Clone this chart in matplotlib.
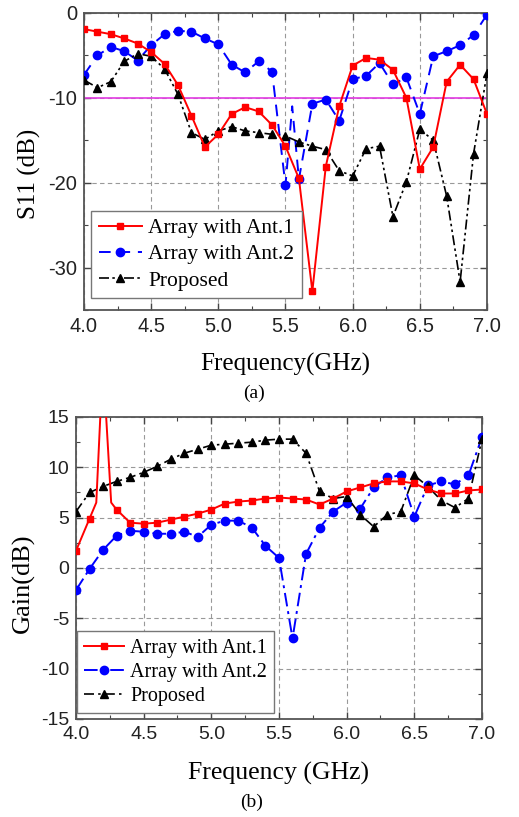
import numpy as np
import matplotlib
matplotlib.use("Agg")
import matplotlib.pyplot as plt
from matplotlib.ticker import MultipleLocator

plt.rcParams["axes.unicode_minus"] = False

# ---- (a) S11 data, 0.1 GHz steps ----
freq = np.round(np.arange(4.0, 7.01, 0.1), 2)
s11_ant1 = [-1.9, -2.2, -2.5, -3.0, -3.6, -4.6, -6.0, -8.5, -12.1, -15.8, -14.3,
            -11.9, -11.1, -11.6, -13.2, -15.7, -19.5, -32.8, -18.1, -11.0, -6.2,
            -5.3, -5.5, -6.7, -10.0, -18.4, -15.8, -8.1, -6.1, -7.8, -11.9]
# Ant.2 has one extra unmarked point at 5.55 GHz
freq_ant2 = [4.0, 4.1, 4.2, 4.3, 4.4, 4.5, 4.6, 4.7, 4.8, 4.9, 5.0, 5.1, 5.2, 5.3,
             5.4, 5.5, 5.55, 5.6, 5.7, 5.8, 5.9, 6.0, 6.1, 6.2, 6.3, 6.4, 6.5,
             6.6, 6.7, 6.8, 6.9, 7.0]
s11_ant2 = [-7.3, -5.0, -4.0, -4.5, -5.6, -3.8, -2.5, -2.1, -2.2, -3.0, -3.7,
            -6.1, -7.0, -5.7, -6.9, -20.3, -11.0, -19.6, -10.7, -10.2, -12.7,
            -7.8, -7.4, -5.9, -8.4, -7.6, -11.9, -5.1, -4.5, -3.8, -2.6, -0.2]
s11_prop = [-7.9, -8.8, -8.1, -5.7, -4.8, -5.1, -6.6, -9.6, -14.1, -14.9, -13.9,
            -13.4, -13.9, -14.1, -14.3, -14.5, -15.2, -15.7, -16.1, -18.6, -19.2,
            -16.0, -15.7, -24.0, -19.9, -13.7, -15.0, -21.6, -31.7, -16.6, -7.1]

# ---- (b) Gain data ----
freq_g1 = [4.0, 4.1, 4.15, 4.19, 4.21, 4.26, 4.3, 4.4, 4.5, 4.6, 4.7, 4.8, 4.9,
           5.0, 5.1, 5.2, 5.3, 5.4, 5.5, 5.6, 5.7, 5.8, 5.9, 6.0, 6.1, 6.2,
           6.3, 6.4, 6.5, 6.6, 6.7, 6.8, 6.9, 7.0]
gain_ant1 = [1.7, 4.9, 6.5, 18.0, 18.0, 6.5, 5.8, 4.5, 4.4, 4.5, 4.8, 5.1, 5.4,
             5.8, 6.4, 6.6, 6.7, 6.9, 7.0, 6.9, 6.8, 6.3, 6.9, 7.6, 8.0, 8.4,
             8.6, 8.6, 8.4, 7.8, 7.4, 7.4, 7.7, 7.8]
gain_ant2 = [-2.2, -0.1, 1.8, 3.2, 3.7, 3.6, 3.4, 3.4, 3.6, 3.1, 4.3, 4.7, 4.7,
             4.0, 2.2, 1.0, -7.0, 1.4, 4.0, 5.6, 6.5, 5.9, 8.0, 9.0, 9.2, 5.1,
             8.2, 8.6, 8.3, 9.2, 13.0]
gain_prop = [5.6, 7.5, 8.1, 8.6, 9.0, 9.5, 10.1, 10.8, 11.4, 11.8, 12.2, 12.3,
             12.4, 12.5, 12.7, 12.8, 12.8, 11.4, 7.6, 6.9, 7.1, 5.3, 4.1, 5.3,
             5.6, 9.2, 8.1, 6.7, 6.0, 6.9, 12.8]

legend_labels = ["Array with Ant.1", "Array with Ant.2", "Proposed"]

SERIF = ["Liberation Serif", "DejaVu Serif"]
SANS = ["Liberation Sans", "DejaVu Sans"]


def marked(xs):
    # markers only on the 0.1 GHz grid
    return [i for i, v in enumerate(xs) if abs(v * 10 - round(v * 10)) < 1e-6]


def style_axes(ax, ymajor, yminor, fs):
    ax.set_xlim(4.0, 7.0)
    ax.xaxis.set_major_locator(MultipleLocator(0.5))
    ax.xaxis.set_minor_locator(MultipleLocator(0.25))
    ax.yaxis.set_major_locator(MultipleLocator(ymajor))
    ax.yaxis.set_minor_locator(MultipleLocator(yminor))
    ax.xaxis.set_major_formatter(plt.FormatStrFormatter("%.1f"))
    ax.tick_params(which="both", direction="in", top=True, right=True,
                   color="#444444", labelcolor="#222222")
    ax.tick_params(which="major", length=5, width=1.0, labelsize=fs, pad=5)
    ax.tick_params(which="minor", length=3, width=0.8)
    for sp in ax.spines.values():
        sp.set_color("#555555")
        sp.set_linewidth(1.3)
    ax.grid(True, which="major", linestyle=(0, (4, 3)), color="#999999", lw=0.8)


fig = plt.figure(figsize=(5.19, 8.17), dpi=100)

# ---------------- (a) ----------------
ax1 = fig.add_axes([0.1618, 0.6206, 0.7765, 0.3635])
ax1.axhline(-10, color="#e23be2", lw=1.2, zorder=2)
ax1.plot(freq, s11_ant1, color="#ff0000", ls="-", lw=1.4, marker="s", ms=5,
         label=legend_labels[0], zorder=4)
ax1.plot(freq_ant2, s11_ant2, color="#0000ff", ls=(0, (6, 4)), lw=1.4, marker="o",
         ms=6, markevery=marked(freq_ant2), label=legend_labels[1], zorder=3)
ax1.plot(freq, s11_prop, color="black", ls=(0, (6, 2, 1.5, 2, 1.5, 2)), lw=1.2,
         marker="^", ms=6, label=legend_labels[2], zorder=3)
ax1.set_ylim(-35, 0)
style_axes(ax1, 10, 5, 14.5)
ax1.set_xticks([4.0, 4.5, 5.0, 5.5, 6.0, 6.5, 7.0])
ax1.set_yticks([0, -10, -20, -30])
ax1.set_ylabel("S11 (dB)", family=SERIF, fontsize=18, va="center")
ax1.yaxis.set_label_coords(-0.136, 0.458)
ax1.set_xlabel("Frequency(GHz)", family=SERIF, fontsize=18, va="center")
ax1.xaxis.set_label_coords(0.50, -0.185)
for lab in ax1.get_xticklabels() + ax1.get_yticklabels():
    lab.set_family(SANS)
leg1 = ax1.legend(loc="lower left", bbox_to_anchor=(0.018, 0.04), prop={"family": SERIF, "size": 15.5},
                  frameon=True, fancybox=False, framealpha=1, edgecolor="#777777",
                  handlelength=2.0, handletextpad=0.3, borderpad=0.35, labelspacing=0.28,
                  borderaxespad=0.0)
leg1.get_frame().set_linewidth(1.0)

fig.text(254 / 519, 1 - 393 / 817, "(a)", family=SERIF, fontsize=14, ha="center", va="center")

# ---------------- (b) ----------------
ax2 = fig.add_axes([0.1464, 0.1200, 0.7823, 0.3696])
ax2.plot(freq_g1, gain_ant1, color="#ff0000", ls="-", lw=1.4, marker="s", ms=5,
         markevery=marked(freq_g1), label=legend_labels[0], zorder=4)
ax2.plot(freq, gain_ant2, color="#0000ff", ls=(0, (7, 2.5, 1.5, 2.5)), lw=1.4,
         marker="o", ms=6, label=legend_labels[1], zorder=3)
ax2.plot(freq, gain_prop, color="black", ls=(0, (6, 2.5, 1.5, 2.5)), lw=1.2,
         marker="^", ms=6, label=legend_labels[2], zorder=3)
ax2.set_ylim(-15, 15)
style_axes(ax2, 5, 2.5, 14)
ax2.set_xticks([4.0, 4.5, 5.0, 5.5, 6.0, 6.5, 7.0])
ax2.set_yticks([15, 10, 5, 0, -5, -10, -15])
ax2.set_ylabel("Gain(dB)", family=SERIF, fontsize=19, va="center")
ax2.yaxis.set_label_coords(-0.13, 0.45)
ax2.set_xlabel("Frequency (GHz)", family=SERIF, fontsize=18.5, va="center")
ax2.xaxis.set_label_coords(0.498, -0.179)
for lab in ax2.get_xticklabels() + ax2.get_yticklabels():
    lab.set_family(SANS)
leg2 = ax2.legend(loc="lower left", bbox_to_anchor=(0.002, 0.02), prop={"family": SERIF, "size": 14.5},
                  frameon=True, fancybox=False, framealpha=1, edgecolor="#777777",
                  handlelength=2.0, handletextpad=0.3, borderpad=0.35, labelspacing=0.25,
                  borderaxespad=0.0)
leg2.get_frame().set_linewidth(1.0)

fig.text(252 / 519, 1 - 802 / 817, "(b)", family=SERIF, fontsize=14, ha="center", va="center")

fig.savefig("out.png", dpi=100)
